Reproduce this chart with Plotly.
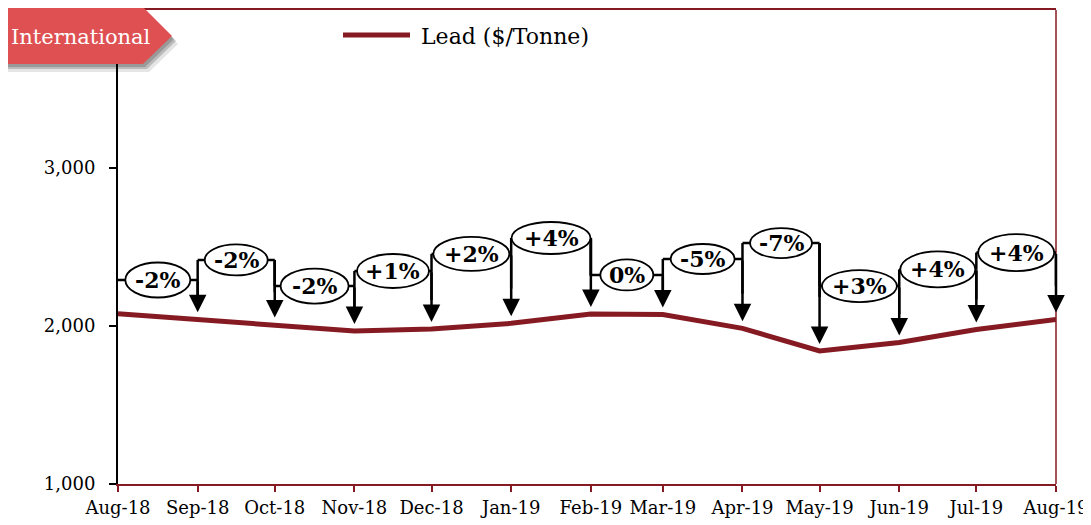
import pandas as pd
import plotly.graph_objects as go

# ---------------- data ----------------
months = ["2018-08-01", "2018-09-01", "2018-10-01", "2018-11-01", "2018-12-01",
          "2019-01-01", "2019-02-01", "2019-03-01", "2019-04-01", "2019-05-01",
          "2019-06-01", "2019-07-01", "2019-08-01"]
tick_labels = ["Aug-18", "Sep-18", "Oct-18", "Nov-18", "Dec-18", "Jan-19", "Feb-19",
               "Mar-19", "Apr-19", "May-19", "Jun-19", "Jul-19", "Aug-19"]
lead_prices = [2078, 2042, 2009, 1968, 1981, 2017, 2076, 2073, 1985, 1842, 1896, 1978, 2041]
change_labels = ["-2%", "-2%", "-2%", "+1%", "+2%", "+4%", "0%", "-5%", "-7%", "+3%", "+4%", "+4%"]
y_tick_vals = [1000, 2000, 3000, 4000]
y_tick_text = ["1,000", "2,000", "3,000", "4,000"]
series_name = "Lead ($/Tonne)"
badge_text = "International"

# ---------------- layout helpers (positions / styles) ----------------
callout_levels = [2291, 2418, 2253, 2348, 2456, 2557, 2323, 2424, 2525, 2253, 2358, 2465]
ellipse_w = [65, 63, 68, 72, 76, 79, 53, 64, 62, 75, 75, 76]
ellipse_h = [35, 31, 35, 34, 34, 32, 31, 30, 30, 32, 36, 37]

PAGE_OFF = 8  # default body margin of the html page
WIDTH, HEIGHT = 1091 - PAGE_OFF, 525 - PAGE_OFF
L, T = 118 - PAGE_OFF, 10 - PAGE_OFF
PW, PH = 938, 474
R, B = WIDTH - L - PW, HEIGHT - T - PH

MAROON = "#861A22"
BADGE_RED = "#DE5052"
FONT = "DejaVu Serif"


def px(x):
    """page pixel x -> paper coordinate"""
    return (x - PAGE_OFF - L) / PW


def py(y):
    """page pixel y -> paper coordinate"""
    return 1 - (y - PAGE_OFF - T) / PH


fig = go.Figure()
fig.add_trace(go.Scatter(x=months, y=lead_prices, mode="lines", name=series_name,
                         line=dict(color=MAROON, width=5), showlegend=False,
                         hoverinfo="skip"))

shapes = []
annotations = []

# right border of plot
shapes.append(dict(type="line", xref="paper", yref="paper", x0=1, x1=1, y0=0, y1=1,
                   line=dict(color=MAROON, width=1.5), layer="below"))

ts = [pd.Timestamp(m) for m in months]
# connectors
for i, lab in enumerate(change_labels):
    lvl = callout_levels[i]
    xa, xb = months[i], months[i + 1]
    shapes.append(dict(type="line", xref="x", yref="y", x0=xa, x1=xb, y0=lvl, y1=lvl,
                       line=dict(color="black", width=2.5), layer="above"))
    if i > 0:
        shapes.append(dict(type="line", xref="x", yref="y", x0=xa, x1=xa,
                           y0=lvl, y1=callout_levels[i - 1],
                           line=dict(color="black", width=2.5), layer="above"))
    shapes.append(dict(type="line", xref="x", yref="y", x0=xb, x1=xb,
                       y0=lvl, y1=(lvl + lead_prices[i + 1]) / 2,
                       line=dict(color="black", width=2.5), layer="above"))
    annotations.append(dict(x=xb, y=lead_prices[i + 1], xref="x", yref="y",
                            ax=xb, ay=lvl, axref="x", ayref="y", text="",
                            showarrow=True, arrowhead=2, arrowwidth=2.5,
                            arrowsize=1.4, arrowcolor="black", standoff=7))

# ellipses
for i, lab in enumerate(change_labels):
    lvl = callout_levels[i]
    mid = ts[i] + (ts[i + 1] - ts[i]) / 2
    mid_s = mid.strftime("%Y-%m-%d %H:%M:%S")
    w, h = ellipse_w[i], ellipse_h[i]
    shapes.append(dict(type="circle", xref="x", yref="y", xsizemode="pixel",
                       ysizemode="pixel", xanchor=mid_s, yanchor=lvl,
                       x0=-w / 2, x1=w / 2, y0=-h / 2, y1=h / 2,
                       fillcolor="white", line=dict(color="black", width=1.8),
                       layer="above"))
    annotations.append(dict(x=mid_s, y=lvl, xref="x", yref="y", text=lab,
                            showarrow=False,
                            font=dict(family=FONT, size=22, color="black", weight="bold")))

# legend (drawn manually)
shapes.append(dict(type="line", xref="paper", yref="paper", x0=px(343), x1=px(410),
                   y0=py(35), y1=py(35), line=dict(color=MAROON, width=5), layer="above"))
annotations.append(dict(x=px(419), y=py(37), xref="paper", yref="paper",
                        text=series_name, showarrow=False, xanchor="left", yanchor="middle",
                        font=dict(family=FONT, size=22, color="black")))

# badge with shadow
def badge_path(dx=0, dy=0):
    pts = [(0, 7), (143, 7), (172, 36), (143, 64), (0, 64)]
    s = "M " + " L ".join(f"{px(x + dx):.5f},{py(y + dy):.5f}" for x, y in pts) + " Z"
    return s

for (dx, dy, a) in [(6, 8, 0.10), (4, 5, 0.18), (2, 3, 0.18)]:
    shapes.append(dict(type="path", xref="paper", yref="paper", path=badge_path(dx, dy),
                       fillcolor=f"rgba(0,0,0,{a})", line=dict(width=0), layer="above"))
shapes.append(dict(type="path", xref="paper", yref="paper", path=badge_path(),
                   fillcolor=BADGE_RED, line=dict(width=0), layer="above"))
annotations.append(dict(x=px(9), y=py(37), xref="paper", yref="paper", text=badge_text,
                        showarrow=False, xanchor="left", yanchor="middle",
                        font=dict(family=FONT, size=21, color="white")))

fig.update_layout(
    width=WIDTH, height=HEIGHT,
    margin=dict(l=L, r=R, t=T, b=B, autoexpand=False),
    paper_bgcolor="white", plot_bgcolor="white",
    shapes=shapes, annotations=annotations,
    showlegend=False,
    xaxis=dict(type="date", range=[months[0], months[-1]], tickvals=months,
               ticktext=tick_labels, ticks="outside", ticklen=6, tickwidth=2,
               tickcolor=MAROON, showline=True, linecolor=MAROON, linewidth=2,
               mirror=True, showgrid=False, zeroline=False,
               tickfont=dict(family=FONT, size=18, color="black")),
    yaxis=dict(range=[1000, 4000], tickvals=y_tick_vals, ticktext=y_tick_text,
               ticks="outside", ticklen=7, tickwidth=1.5, tickcolor="black",
               showline=True, linecolor="black", linewidth=2, showgrid=False,
               zeroline=False, ticklabelstandoff=10,
               tickfont=dict(family=FONT, size=18, color="black")),
)

fig.write_html("out.html")
